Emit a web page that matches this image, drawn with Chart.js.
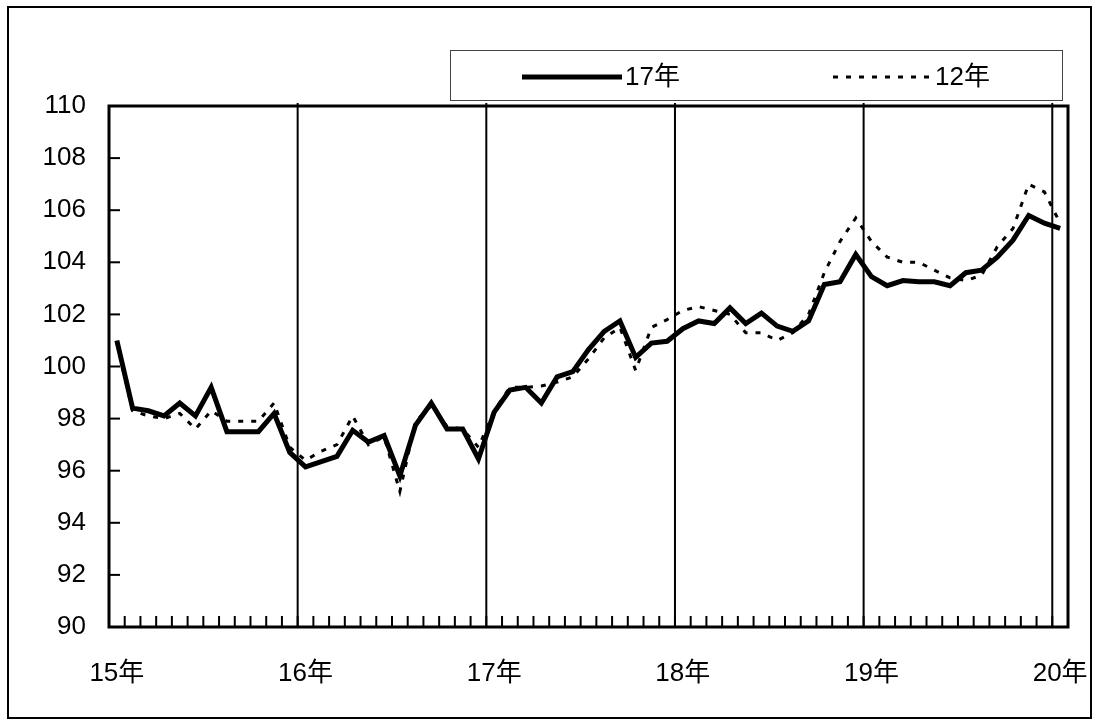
<!DOCTYPE html>
<html>
<head>
<meta charset="utf-8">
<script src="https://cdn.jsdelivr.net/npm/chart.js@4"></script>
<style>
  html, body { margin: 0; padding: 0; background: #fff; }
  #wrap { width: 1096px; height: 722px; }
</style>
</head>
<body>
<div id="wrap"><canvas id="lineChart" width="1096" height="722"></canvas></div>
<script>
// year tick labels (one per January)
var yearLabels = ['15年', '16年', '17年', '18年', '19年', '20年'];

// monthly index, Jan 2015 - Jan 2020
var series17 = [
    101.0, 98.4, 98.3, 98.1, 98.6, 98.1, 99.2, 97.5, 97.5, 97.5, 98.2, 96.7,
    96.15, 96.35, 96.55, 97.55, 97.1, 97.35, 95.8, 97.75, 98.6, 97.6, 97.6, 96.45,
    98.25, 99.1, 99.2, 98.6, 99.6, 99.8, 100.65, 101.35, 101.75, 100.35, 100.9, 100.97,
    101.45, 101.75, 101.65, 102.25, 101.65, 102.05, 101.55, 101.35, 101.75, 103.15, 103.25, 104.3,
    103.45, 103.1, 103.3, 103.25, 103.25, 103.1, 103.6, 103.7, 104.2, 104.85, 105.8, 105.5, 105.3
];
var series12 = [
    100.9, 98.3, 98.1, 98.0, 98.2, 97.6, 98.3, 97.9, 97.9, 97.9, 98.6, 96.9,
    96.4, 96.75, 97.0, 98.1, 97.0, 97.3, 95.2, 97.9, 98.5, 97.7, 97.6, 96.9,
    98.3, 99.2, 99.2, 99.25, 99.4, 99.6, 100.3, 101.1, 101.5, 99.85, 101.5, 101.8,
    102.15, 102.3, 102.15, 102.0, 101.3, 101.3, 101.0, 101.3, 102.0, 103.6, 104.8, 105.7,
    104.8, 104.2, 104.0, 104.0, 103.7, 103.4, 103.3, 103.5, 104.6, 105.3, 107.0, 106.7, 105.5
];
var legendLabels = ['17年', '12年'];

var FONT = '"Liberation Sans", "Noto Sans CJK JP", sans-serif';

// month categories
var months = [];
for (var i = 0; i < series17.length; i++) {
    months.push((2015 + Math.floor(i / 12)) + '-' + (i % 12 + 1));
}

// frame, year lines, inner ticks, legend box
var framePlugin = {
    id: 'frame',
    beforeDatasetsDraw: function(chart) {
        var ctx = chart.ctx, a = chart.chartArea;
        var xs = chart.scales.x, ys = chart.scales.y;
        var half = (xs.getPixelForValue(1) - xs.getPixelForValue(0)) / 2;
        ctx.save();
        ctx.strokeStyle = '#000';
        // month ticks + year lines
        for (var i = 1; i <= months.length; i++) {
            var x = i < months.length ? xs.getPixelForValue(i) - half : a.right;
            if (i % 12 === 0 && i < months.length) {
                ctx.lineWidth = 2;
                ctx.beginPath();
                ctx.moveTo(x, a.top - 3);
                ctx.lineTo(x, a.bottom);
                ctx.stroke();
            }
            ctx.lineWidth = 2;
            ctx.beginPath();
            ctx.moveTo(x, a.bottom);
            ctx.lineTo(x, a.bottom - 11);
            ctx.stroke();
        }
        // y ticks pointing inward
        for (var v = 92; v <= 110; v += 2) {
            var y = ys.getPixelForValue(v);
            ctx.beginPath();
            ctx.moveTo(a.left, y);
            ctx.lineTo(a.left + 11, y);
            ctx.stroke();
        }
        ctx.restore();
    },
    afterDraw: function(chart) {
        var ctx = chart.ctx, a = chart.chartArea;
        ctx.save();
        ctx.strokeStyle = '#000';
        // plot box
        ctx.lineWidth = 3;
        ctx.strokeRect(a.left, a.top, a.right - a.left, a.bottom - a.top);
        // outer border
        ctx.lineWidth = 2;
        ctx.strokeRect(8, 7, 1083, 711);
        // legend
        ctx.lineWidth = 1;
        ctx.strokeStyle = '#444';
        ctx.strokeRect(450.5, 50.5, 612, 50);
        ctx.strokeStyle = '#000';
        ctx.lineWidth = 5;
        ctx.beginPath();
        ctx.moveTo(522, 77);
        ctx.lineTo(622, 77);
        ctx.stroke();
        ctx.lineWidth = 3;
        ctx.setLineDash([5, 8]);
        ctx.beginPath();
        ctx.moveTo(833, 77);
        ctx.lineTo(932, 77);
        ctx.stroke();
        ctx.setLineDash([]);
        ctx.fillStyle = '#000';
        ctx.font = '26px ' + FONT;
        ctx.textBaseline = 'middle';
        ctx.fillText(legendLabels[0], 625, 78);
        ctx.fillText(legendLabels[1], 935, 78);
        ctx.restore();
    }
};

var chart = new Chart(document.getElementById('lineChart').getContext('2d'), {
    type: 'line',
    data: {
        labels: months,
        datasets: [{
            label: legendLabels[0],
            data: series17,
            borderColor: '#000',
            borderWidth: 5,
            pointRadius: 0,
            tension: 0,
            fill: false
        }, {
            label: legendLabels[1],
            data: series12,
            borderColor: '#000',
            borderWidth: 3,
            borderDash: [5, 8],
            pointRadius: 0,
            tension: 0,
            fill: false
        }]
    },
    options: {
        responsive: false,
        devicePixelRatio: 1,
        animation: false,
        layout: { padding: { left: 0, top: 106, right: 28, bottom: 0 } },
        plugins: { legend: { display: false }, tooltip: { enabled: false } },
        scales: {
            x: {
                type: 'category',
                offset: true,
                grid: { display: false, drawTicks: false },
                border: { display: false },
                ticks: {
                    autoSkip: false,
                    maxRotation: 0,
                    padding: 31,
                    color: '#000',
                    font: { family: FONT, size: 26 },
                    callback: function(val, idx) {
                        return idx % 12 === 0 ? yearLabels[idx / 12] : '';
                    }
                },
                afterFit: function(s) {
                    s.height = 95;
                    s.paddingLeft = 0;
                    s.paddingRight = 0;
                }
            },
            y: {
                min: 90,
                max: 110,
                grid: { display: false, drawTicks: false },
                border: { display: false },
                ticks: {
                    stepSize: 2,
                    padding: 23,
                    color: '#000',
                    font: { family: FONT, size: 26 }
                },
                afterFit: function(s) {
                    s.width = 109;
                    s.paddingTop = 0;
                    s.paddingBottom = 0;
                }
            }
        }
    },
    plugins: [framePlugin]
});
</script>
</body>
</html>
